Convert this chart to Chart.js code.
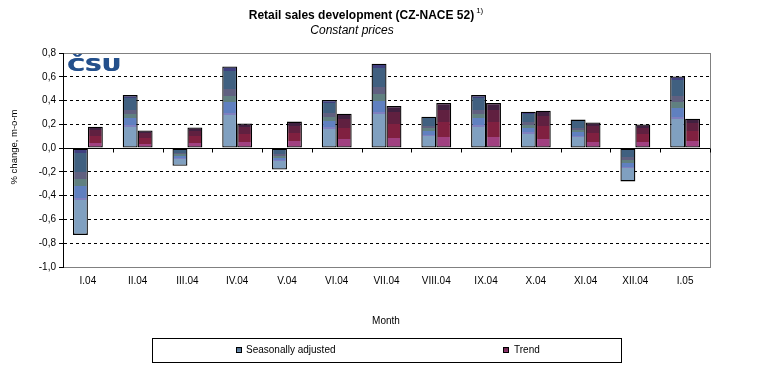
<!DOCTYPE html>
<html>
<head>
<meta charset="utf-8">
<script src="https://cdn.jsdelivr.net/npm/chart.js@4/dist/chart.umd.min.js"></script>
<style>
html,body{margin:0;padding:0;background:#fff;}
#wrap{width:757px;height:392px;position:relative;}
</style>
</head>
<body>
<div id="wrap"><canvas id="c" width="757" height="392"></canvas></div>
<script>
const categories = ['I.04','II.04','III.04','IV.04','V.04','VI.04','VII.04','VIII.04','IX.04','X.04','XI.04','XII.04','I.05'];
const seasonallyAdjusted = [-0.73, 0.446, -0.149, 0.686, -0.18, 0.405, 0.71, 0.264, 0.446, 0.306, 0.24, -0.28, 0.603];
const trend = [0.18, 0.149, 0.174, 0.207, 0.223, 0.29, 0.355, 0.38, 0.38, 0.314, 0.215, 0.198, 0.248];
const seriesNames = ['Seasonally adjusted', 'Trend'];
const titleText = 'Retail sales development (CZ-NACE 52)';
const titleSup = '1)';
const subtitleText = 'Constant prices';
const xTitle = 'Month';
const yTitle = '% change, m-o-m';

const FONT = '"Liberation Sans", Arial, sans-serif';

const saBands = [
  [0.00, 0.055, '#404080'],
  [0.055, 0.28, '#406080'],
  [0.28, 0.36, '#606080'],
  [0.36, 0.44, '#608080'],
  [0.44, 0.57, '#6080c0'],
  [0.57, 0.60, '#8080c0'],
  [0.60, 1.00, '#80a0c0']
];
const trBands = [
  [0.00, 0.15, '#402040'],
  [0.15, 0.42, '#602040'],
  [0.42, 0.75, '#802040'],
  [0.75, 1.00, '#a04080']
];

function bandFill(bands, fallback) {
  return function(ctx) {
    const chart = ctx.chart;
    if (!chart.chartArea || ctx.type !== 'data' || !ctx.parsed) return fallback;
    const ys = chart.scales.y;
    const p0 = ys.getPixelForValue(0);
    const p1 = ys.getPixelForValue(ctx.parsed.y);
    const top = Math.min(p0, p1), bot = Math.max(p0, p1);
    if (bot - top < 1) return fallback;
    const g = chart.ctx.createLinearGradient(0, top, 0, bot);
    bands.forEach(b => { g.addColorStop(b[0], b[2]); g.addColorStop(b[1], b[2]); });
    return g;
  };
}

const isZero = v => Math.abs(v) < 1e-9;
const isEdge = v => Math.abs(v - 0.8) < 1e-9 || Math.abs(v + 1) < 1e-9;

const decor = {
  id: 'decor',
  afterDraw(chart) {
    const c = chart.ctx;
    const a = chart.chartArea;
    const ys = chart.scales.y;
    c.save();
    c.setLineDash([]);
    // right border
    c.strokeStyle = '#808080'; c.lineWidth = 1;
    c.beginPath(); c.moveTo(a.right + 0.5, a.top); c.lineTo(a.right + 0.5, a.bottom); c.stroke();
    // zero line + ticks at category boundaries
    const y0 = Math.round(ys.getPixelForValue(0)) + 0.5;
    const n = categories.length;
    const w = (a.right - a.left) / n;
    c.strokeStyle = '#000';
    c.beginPath();
    for (let i = 1; i <= n; i++) {
      const x = Math.round(a.left + i * w) + 0.5;
      c.moveTo(x, y0); c.lineTo(x, y0 + 4);
    }
    c.stroke();
    c.beginPath(); c.moveTo(a.left, y0); c.lineTo(a.right, y0); c.stroke();

    // logo
    c.fillStyle = '#24508c';
    c.textAlign = 'left'; c.textBaseline = 'alphabetic';
    c.font = 'bold 18px "DejaVu Sans", sans-serif';
    for (let dx = 0; dx <= 1; dx++) {
      c.save();
      c.translate(67 + dx, 71);
      c.scale(1.3, 1);
      c.fillText('ČSU', 0, 0);
      c.restore();
    }

    // title
    c.fillStyle = '#000';
    c.textBaseline = 'middle';
    c.font = 'bold 12px ' + FONT;
    const tw = c.measureText(titleText).width;
    c.font = '8px ' + FONT;
    const sw = c.measureText(titleSup).width;
    const tx = 366 - (tw + sw + 2) / 2;
    c.font = 'bold 12px ' + FONT;
    c.textAlign = 'left';
    c.fillText(titleText, tx, 16);
    c.font = '8px ' + FONT;
    c.fillText(titleSup, tx + tw + 2, 11);
    c.font = 'italic 12px ' + FONT;
    c.textAlign = 'center';
    c.fillText(subtitleText, 352, 31);

    // axis titles
    c.font = '10px ' + FONT;
    c.fillText(xTitle, 386, 321);
    c.save();
    c.translate(14, 147);
    c.rotate(-Math.PI / 2);
    c.font = '9.5px ' + FONT;
    c.fillText(yTitle, 0, 0);
    c.restore();

    // legend box
    c.strokeStyle = '#000'; c.lineWidth = 1;
    c.strokeRect(152.5, 338.5, 469, 24);
    const items = [
      {x: 236, tx: 246, fill: ['#406080', '#80a0c0']},
      {x: 503, tx: 514, fill: ['#602040', '#a04080']}
    ];
    items.forEach((it, i) => {
      const g = c.createLinearGradient(0, 347, 0, 353);
      g.addColorStop(0, it.fill[0]); g.addColorStop(1, it.fill[1]);
      c.fillStyle = g;
      c.fillRect(it.x + 0.5, 347.5, 5, 5);
      c.strokeStyle = '#000';
      c.strokeRect(it.x + 0.5, 347.5, 5, 5);
      c.fillStyle = '#000';
      c.textAlign = 'left';
      c.font = '10px ' + FONT;
      c.fillText(chart.data.datasets[i].label, it.tx, 350.5);
    });
    c.restore();
  }
};

new Chart(document.getElementById('c'), {
  type: 'bar',
  data: {
    labels: categories,
    datasets: [
      {label: seriesNames[0], data: seasonallyAdjusted, backgroundColor: bandFill(saBands, '#80a0c0'),
       borderColor: '#000', borderWidth: 1.3, borderSkipped: false, barPercentage: 1, categoryPercentage: 0.6},
      {label: seriesNames[1], data: trend, backgroundColor: bandFill(trBands, '#802040'),
       borderColor: '#000', borderWidth: 1.3, borderSkipped: false, barPercentage: 1, categoryPercentage: 0.6}
    ]
  },
  options: {
    responsive: false,
    animation: false,
    devicePixelRatio: 1,
    layout: {padding: {left: 0, right: 47, top: 53, bottom: 0}},
    plugins: {legend: {display: false}, tooltip: {enabled: false}, title: {display: false}},
    scales: {
      x: {
        grid: {display: false, drawTicks: false},
        border: {display: true, color: '#808080', width: 1},
        ticks: {color: '#000', font: {family: FONT, size: 10}, padding: 8, maxRotation: 0, autoSkip: false},
        afterFit(s) { s.height = 125; }
      },
      y: {
        min: -1, max: 0.8,
        grid: {
          color: ctx => (ctx.tick && isEdge(ctx.tick.value)) ? '#808080' : '#000',
          lineWidth: 1,
          drawTicks: true, tickLength: 4, tickColor: '#000', tickBorderDash: []
        },
        border: {
          display: true, color: '#000', width: 1,
          dash: ctx => (ctx.tick && !isZero(ctx.tick.value) && !isEdge(ctx.tick.value)) ? [3, 3] : []
        },
        ticks: {
          stepSize: 0.2, color: '#000', font: {family: FONT, size: 10}, padding: 3,
          callback: v => isZero(v) ? '0,0' : Number(v).toFixed(1).replace('.', ',')
        },
        afterFit(s) { s.width = 63; }
      }
    }
  },
  plugins: [decor]
});
</script>
</body>
</html>
